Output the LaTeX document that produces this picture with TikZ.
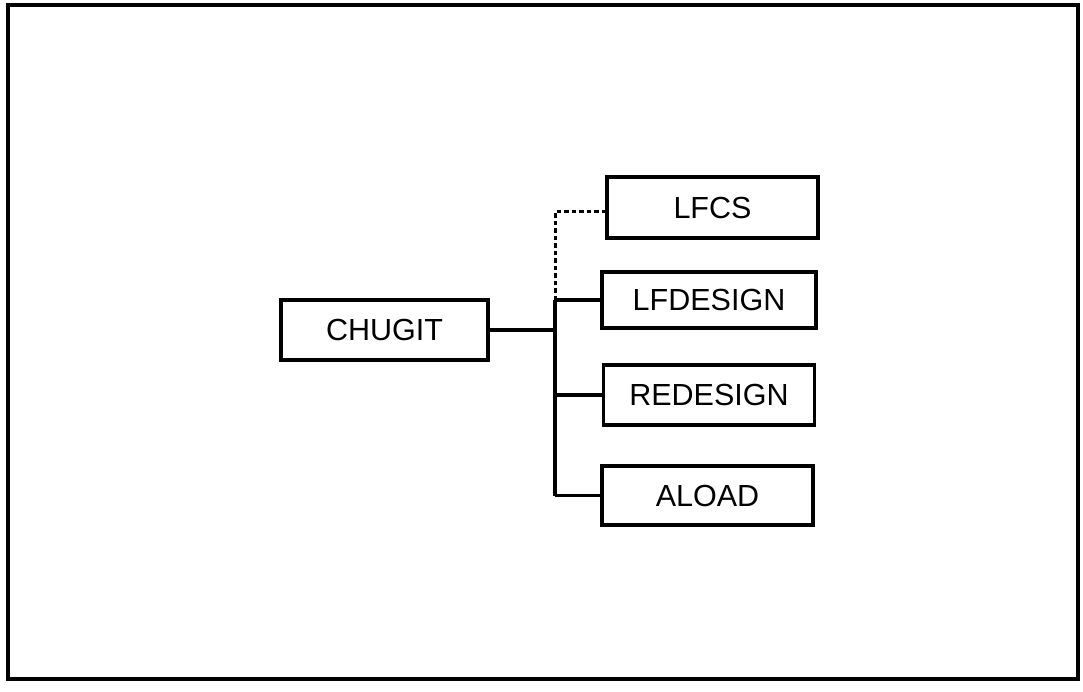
\documentclass[tikz,border=0pt]{standalone}
\usepackage{fontspec}
\setmainfont{Liberation Sans}
\usetikzlibrary{positioning}
\tikzset{
  frame/.style={line width=4pt},
  module/.style={draw, line width=3.2pt, minimum width=211pt, minimum height=59pt,
    inner sep=0pt, font=\fontsize{30.5}{36}\selectfont},
  link/.style={line width=3.2pt},
  optional link/.style={line width=3pt, dash pattern=on 4.5pt off 3pt},
}
\begin{document}
\begin{tikzpicture}[x=1pt, y=-1pt]
  \useasboundingbox (0,0) rectangle (1083,691);

  % Outer frame
  \draw[frame] (8,5) rectangle (1078,679);

  % Modules
  \node[module, minimum width=207pt, minimum height=60pt] (chugit) at (384.5,330) {CHUGIT};
  \node[module, minimum height=61pt] (lfcs) at (712.5,207.5) {LFCS};
  \node[module, minimum width=214pt, minimum height=56pt] (lfdesign) at (709,300) {LFDESIGN};
  \node[module, minimum height=60pt] (redesign) at (709,395) {REDESIGN};
  \node[module] (aload) at (707.5,495.5) {ALOAD};

  % Calling tree
  \coordinate (bus) at (555,330);
  \draw[link] (chugit) -- (bus);
  \draw[link] (bus |- lfdesign.west) -- (bus |- aload.west);
  \draw[link] (bus |- lfdesign.west) -- (lfdesign.west);
  \draw[link] (bus |- redesign.west) -- (redesign.west);
  \draw[link] (bus |- aload.west) -- (aload.west);
  \draw[optional link] (bus |- lfdesign.west) |- ([yshift=-4pt]lfcs.west);
\end{tikzpicture}
\end{document}
